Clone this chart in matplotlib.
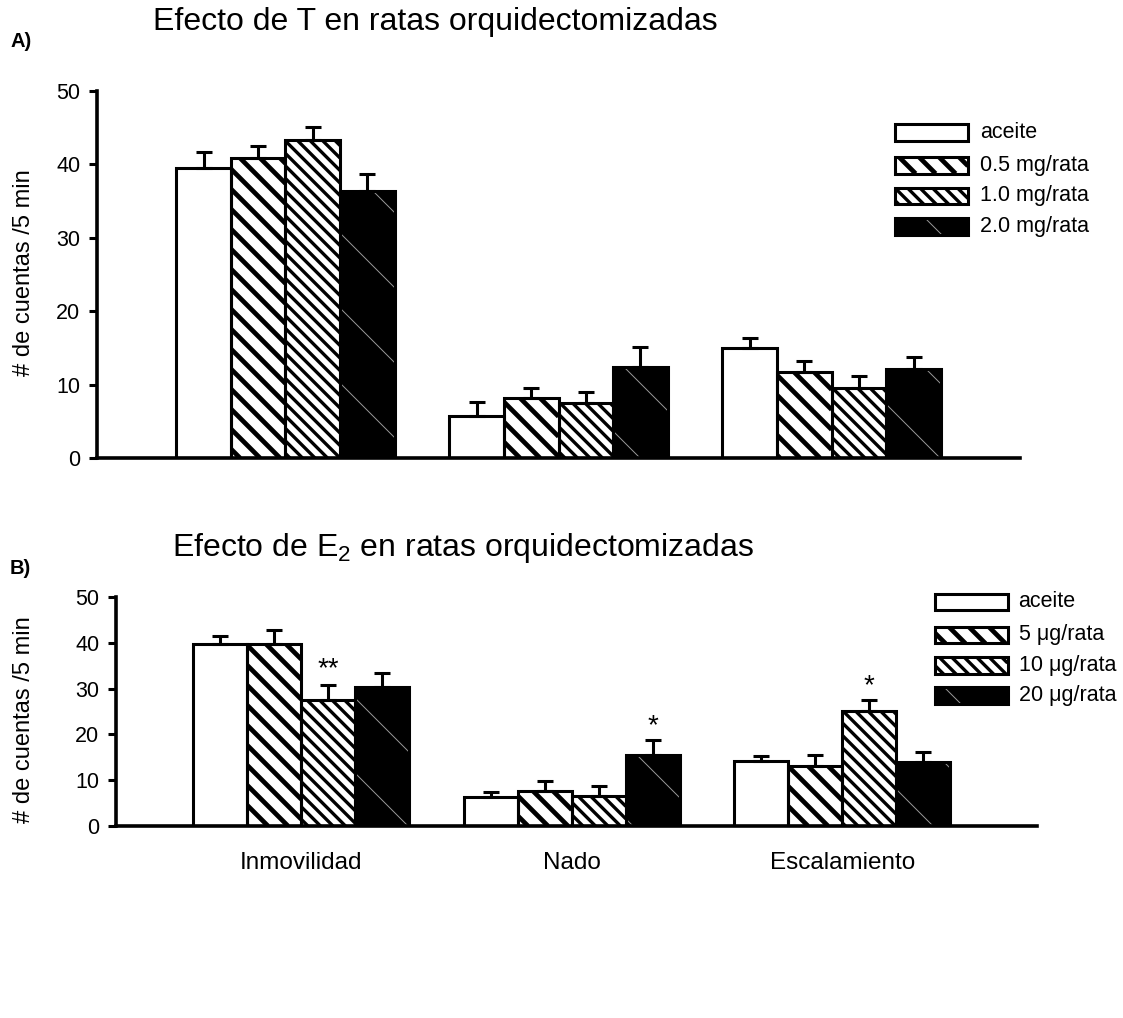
import numpy as np
import matplotlib
matplotlib.use("Agg")
import matplotlib.pyplot as plt
from matplotlib.patches import Rectangle
from matplotlib.collections import LineCollection
from matplotlib.transforms import IdentityTransform, Bbox

plt.rcParams['font.family'] = ['Liberation Sans', 'DejaVu Sans']
plt.rcParams['mathtext.fontset'] = 'custom'
plt.rcParams['mathtext.rm'] = 'Liberation Sans'
plt.rcParams['mathtext.it'] = 'Liberation Sans:italic'

# data
groups = ['Inmovilidad', 'Nado', 'Escalamiento']
labels_t = ['aceite', '0.5 mg/rata', '1.0 mg/rata', '2.0 mg/rata']
labels_e2 = ['aceite', '5 μg/rata', '10 μg/rata', '20 μg/rata']

t_mean = [[39.5, 5.7, 15.0],
          [40.9, 8.2, 11.7],
          [43.3, 7.5, 9.5],
          [36.4, 12.4, 12.1]]
t_err = [[2.2, 1.9, 1.3],
         [1.6, 1.3, 1.5],
         [1.8, 1.5, 1.7],
         [2.3, 2.7, 1.7]]

e2_mean = [[39.8, 6.4, 14.2],
           [39.8, 7.6, 13.0],
           [27.5, 6.6, 25.2],
           [30.3, 15.5, 13.9]]
e2_err = [[1.7, 1.1, 1.1],
          [2.9, 2.3, 2.5],
          [3.3, 2.1, 2.3],
          [3.2, 3.3, 2.3]]

# (group index, series index, text)
e2_marks = [(0, 2, '**'), (1, 3, '*'), (2, 2, '*')]

# face colour, hatch step (px), hatch width (pt), hatch colour
styles = [('white', None, 0, None),
          ('white', 20, 3.4, 'black'),
          ('white', 12.5, 2.4, 'black'),
          ('black', 75, 0.7, '#9a9a9a')]

DPI = 100
W = 0.2


def hatch(ax, patch, step, lw, color):
    # diagonal "\" lines in pixel space, cut to the patch box
    bb = patch.get_window_extent()
    x0, y0, x1, y1 = bb.x0, bb.y0, bb.x1, bb.y1
    cs = np.arange(np.floor((x0 + y0) / step) * step, x1 + y1 + step, step)
    segs = []
    for c in cs:
        xa = max(x0, c - y1)
        xb = min(x1, c - y0)
        if xb > xa:
            segs.append([(xa, c - xa), (xb, c - xb)])
    lc = LineCollection(segs, colors=color, linewidths=lw,
                        transform=IdentityTransform(), zorder=2.5)
    ax.add_collection(lc, autolim=False)
    lc.set_clip_box(Bbox.from_extents(x0, y0, x1, y1))
    lc.set_clip_on(True)


def panel(ax, means, errs, labels, xlim, leg_x, leg_tx, leg_y, leg_h):
    x = np.arange(len(groups))
    ax.set_xlim(*xlim)
    ax.set_ylim(0, 50)
    for i in range(4):
        face, step, hlw, hcol = styles[i]
        pos = x + (i - 1.5) * W
        bars = ax.bar(pos, means[i], W, color=face, edgecolor='none', zorder=2)
        if step:
            for b in bars:
                hatch(ax, b, step, hlw, hcol)
        ax.bar(pos, means[i], W, fill=False, edgecolor='black',
               linewidth=2.2, zorder=3)
        ax.errorbar(pos, means[i], yerr=[np.zeros(3), errs[i]], fmt='none',
                    ecolor='black', elinewidth=2.2, capsize=6, capthick=2.2,
                    zorder=4)
        # legend box
        r = Rectangle((leg_x, leg_y[i] - leg_h / 2), 0.079, leg_h,
                      transform=ax.transAxes, facecolor=face,
                      edgecolor='none', clip_on=False, zorder=2)
        ax.add_patch(r)
        if step:
            hatch(ax, r, step, hlw, hcol)
        ax.add_patch(Rectangle((leg_x, leg_y[i] - leg_h / 2), 0.079, leg_h,
                               transform=ax.transAxes, fill=False,
                               edgecolor='black', linewidth=2.2,
                               clip_on=False, zorder=3))
        ax.text(leg_tx, leg_y[i], labels[i], transform=ax.transAxes,
                fontsize=15.5, va='center', ha='left')

    for s in ['top', 'right']:
        ax.spines[s].set_visible(False)
    for s in ['left', 'bottom']:
        ax.spines[s].set_linewidth(2.6)
    ax.set_yticks([0, 10, 20, 30, 40, 50])
    ax.tick_params(axis='y', direction='out', length=6, width=2.2,
                   labelsize=15.5, pad=6)
    ax.set_xticks(x)
    ax.tick_params(axis='x', length=0)


fig = plt.figure(figsize=(11.23, 10.18), dpi=DPI)

axA = fig.add_axes([0.0864, 0.550, 0.8219, 0.3606])
panel(axA, t_mean, t_err, labels_t, (-0.69, 2.69),
      0.8646, 0.957, [0.888, 0.798, 0.714, 0.632], 0.046)
axA.set_xticklabels([])

axB = fig.add_axes([0.1033, 0.1886, 0.8201, 0.2250])
panel(axB, e2_mean, e2_err, labels_e2, (-0.685, 2.72),
      0.889, 0.980, [0.978, 0.834, 0.699, 0.568], 0.074)
axB.set_xticklabels(groups, fontsize=17.5)
axB.tick_params(axis='x', pad=19)

for g, i, txt in e2_marks:
    xp = g + (i - 1.5) * W
    off = 0.6 if txt == '**' else 0.2
    axB.text(xp, e2_mean[i][g] + e2_err[i][g] + off, txt, ha='center',
             va='bottom', fontsize=20)

fig.text(0.136, 0.978, 'Efecto de T en ratas orquidectomizadas',
         fontsize=23, va='center', ha='left')
fig.text(0.153, 0.462, 'Efecto de E$_2$ en ratas orquidectomizadas',
         fontsize=23, va='center', ha='left')
fig.text(0.009, 0.959, 'A)', fontsize=14.5, fontweight='bold', va='center')
fig.text(0.009, 0.442, 'B)', fontsize=14.5, fontweight='bold', va='center')
fig.text(0.021, 0.732, '# de cuentas /5 min', rotation=90, fontsize=17,
         va='center', ha='center')
fig.text(0.021, 0.293, '# de cuentas /5 min', rotation=90, fontsize=17,
         va='center', ha='center')

fig.savefig('out.png', dpi=DPI)
